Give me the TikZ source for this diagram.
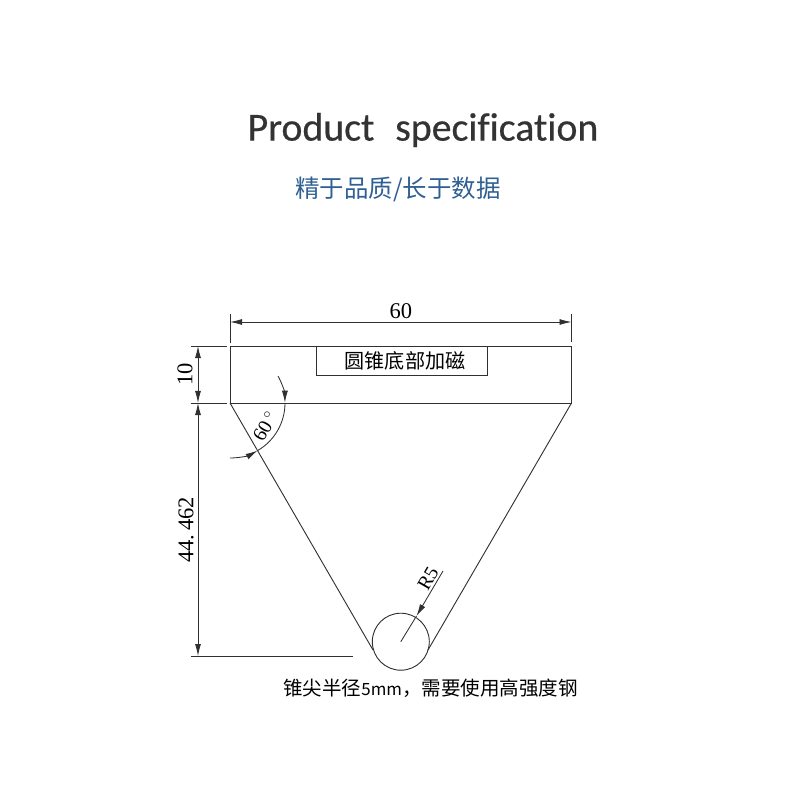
\documentclass[tikz,border=0pt]{standalone}
\usepackage{fontspec}
\setmainfont{Liberation Serif}
\newfontfamily\titlefont[FakeBold=0.5,Ligatures=NoCommon]{Carlito}
\newfontfamily\cjk{Noto Sans CJK SC}
\usetikzlibrary{arrows.meta}
\definecolor{sloganblue}{HTML}{2F5F93}
\definecolor{titlegray}{HTML}{333333}
\definecolor{linegray}{HTML}{303030}
\tikzset{
    dimtip/.tip={Latex[length=3mm,width=1.5mm]},
    dimline/.style={draw=linegray, line width=0.6pt, dimtip-dimtip},
    extline/.style={draw=linegray, line width=0.6pt},
    partline/.style={draw=linegray, line width=0.65pt},
    dimlabel/.style={font=\fontsize{16}{16}\selectfont, text=black, inner sep=0pt},
    smalldim/.style={font=\fontsize{14}{14}\selectfont, text=black, inner sep=0pt},
    cjklabel/.style={font=\cjk\fontsize{14.3}{15}\selectfont, text=black, inner sep=0pt}
}
\begin{document}
\begin{tikzpicture}[x=0.025cm, y=-0.025cm]

    \useasboundingbox (0,0) rectangle (800,800);

    % Heading
    \node[inner sep=0pt, text=titlegray, font=\titlefont\fontsize{28.3}{30}\selectfont] (title) at (423,130) {Product\hspace{0.3em} specification};
    \node[inner sep=0pt, text=sloganblue, font=\cjk\fontsize{17.4}{18}\selectfont] (slogan) at (398,189) {精于品质/长于数据};

    % Points of the cone
    \coordinate (topl) at (230,346);
    \coordinate (topr) at (571.5,346);
    \coordinate (midl) at (230,403);
    \coordinate (midr) at (571.5,403);
    \coordinate (tipl) at (373,650);
    \coordinate (tipr) at (428,650);
    \coordinate (tipc) at (400.8,641.7);

    % Cone
    \draw[partline] (topl) rectangle (midr);
    \draw[partline] (midl) -- (tipl);
    \draw[partline] (midr) -- (tipr);
    \draw[partline] (tipc) circle (28.5*0.025cm);
    \node[draw=linegray, line width=0.6pt, minimum width=171*0.025cm, minimum height=29*0.025cm, inner sep=0pt, anchor=north west] (magnet) at (315.5,346) {};
    \node[cjklabel] (magnettext) at (405,360.5) {圆锥底部加磁};

    % Width
    \draw[extline] (230,314) -- (230,343);
    \draw[extline] (571.5,314) -- (571.5,342);
    \coordinate (widthl) at (230,322);
    \coordinate (widthr) at (571.5,322);
    \draw[dimline] (widthl) -- node[dimlabel, above=2pt] (widthtext) {60} (widthr);

    % Heights
    \draw[extline] (190.5,346) -- (227,346);
    \draw[extline] (190.5,403) -- (227,403);
    \draw[extline] (190.5,656) -- (353,656);
    \coordinate (hta) at (198,346);
    \coordinate (htb) at (198,403);
    \coordinate (htc) at (198,656);
    \draw[dimline] (hta) -- (htb);
    \draw[dimline] (htb) -- (htc);
    \node[dimlabel, rotate=90] (htenten) at (185,374) {10};
    \node[dimlabel, rotate=90] (htcone) at (186,530) {44.\,462};

    % Angle
    \draw[extline, -dimtip] (278,376) arc (-29:0:55);
    \draw[extline] (285,403) arc (0:60:55);
    \draw[extline, -dimtip] (230,458) arc (90:60:55);
    \node[smalldim, rotate=60] (angletext) at (265,426) {60\,$^{\circ}$};

    % Radius
    \coordinate (radtop) at (443,571);
    \draw[extline, -dimtip] (radtop) -- (416.5,616);
    \draw[extline] (416.5,616) -- (tipc);
    \node[smalldim, rotate=60] (radtext) at (428,578.5) {R5};

    % Note
    \node[cjklabel, anchor=west, font=\cjk\fontsize{13.9}{15}\selectfont] (note) at (283,688) {锥尖半径{\fontsize{12}{14}\selectfont 5mm}，需要使用高强度钢};

\end{tikzpicture}
\end{document}
